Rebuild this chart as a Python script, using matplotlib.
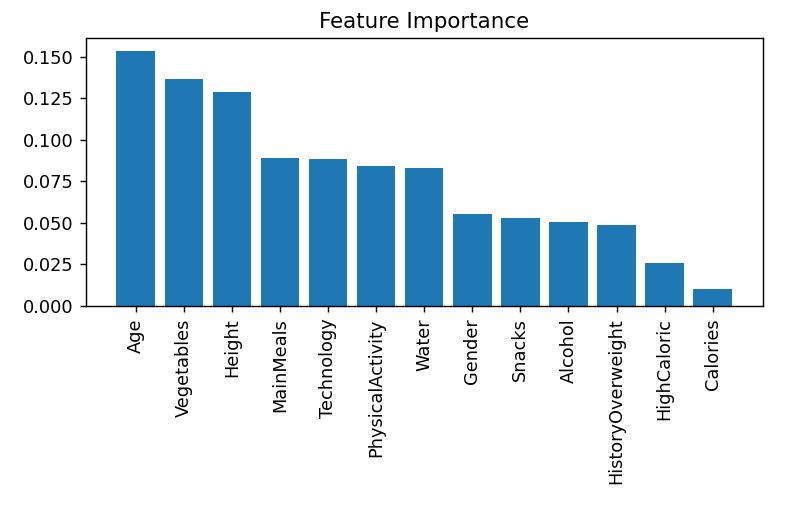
import matplotlib
matplotlib.use("Agg")
import matplotlib.pyplot as plt

features = ["Age", "Vegetables", "Height", "MainMeals", "Technology",
            "PhysicalActivity", "Water", "Gender", "Snacks", "Alcohol",
            "HistoryOverweight", "HighCaloric", "Calories"]
importance = [0.1534, 0.1363, 0.1289, 0.0893, 0.0883, 0.0840, 0.0829,
              0.0551, 0.0529, 0.0507, 0.0487, 0.0261, 0.0101]

DPI = 128
fig = plt.figure(figsize=(806 / DPI, 513 / DPI), dpi=DPI)
ax = fig.add_axes([0.1063, 0.4035, 0.84, 0.5218])
x = list(range(len(features)))
ax.bar(x, importance, color="#1f77b4")
ax.set_xticks(x)
ax.set_xticklabels(features, rotation=90)
ax.set_yticks([0.0, 0.025, 0.05, 0.075, 0.1, 0.125, 0.15])
ax.yaxis.set_major_formatter(matplotlib.ticker.FormatStrFormatter("%.3f"))
ax.set_title("Feature Importance")
fig.savefig("out.png", dpi=DPI)
